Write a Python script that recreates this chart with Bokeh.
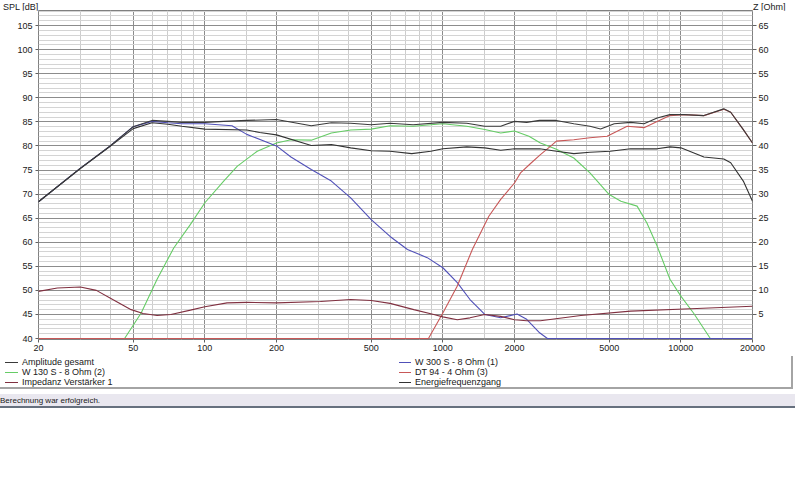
from bokeh.plotting import figure
from bokeh.models import Range1d, LinearAxis, FixedTicker, NumeralTickFormatter, Div
from bokeh.layouts import column
from bokeh.embed import file_html
from bokeh.resources import INLINE

# ---------------- data ----------------
amp_f = [20, 30, 40, 50, 60, 70, 80, 100, 120, 150, 200, 280, 340, 410, 500, 600, 750,
         1000, 1260, 1500, 1750, 2000, 2250, 2550, 3000, 3550, 4150, 4600, 5250, 6150,
         7000, 7950, 9000, 10300, 12500, 15150, 16200, 18300, 20000]
amp_db = [68.4, 75.4, 80.0, 84.0, 85.3, 85.1, 84.9, 84.9, 85.1, 85.3, 85.5, 84.2, 84.8,
          84.7, 84.4, 84.7, 84.4, 84.9, 84.7, 84.1, 84.1, 85.1, 84.9, 85.3, 85.3, 84.6,
          84.1, 83.5, 84.6, 84.9, 84.6, 85.8, 86.5, 86.5, 86.3, 87.7, 87.0, 83.4, 80.6]

en_f = [20, 30, 40, 50, 60, 70, 80, 100, 150, 170, 200, 280, 340, 410, 500, 600, 740,
        890, 1000, 1260, 1500, 1750, 2000, 2250, 2550, 3000, 3550, 4150, 5050, 6150,
        7950, 9000, 10000, 12500, 15150, 16200, 18300, 20000]
en_db = [68.4, 75.3, 79.9, 83.6, 84.8, 84.5, 84.1, 83.5, 83.3, 82.8, 82.3, 80.1, 80.3,
         79.6, 79.0, 78.9, 78.4, 78.9, 79.4, 79.8, 79.6, 79.1, 79.4, 79.4, 79.4, 78.9,
         78.4, 78.7, 78.9, 79.4, 79.4, 79.8, 79.6, 77.7, 77.3, 76.5, 72.7, 68.5]

w300_f = [20, 30, 40, 50, 60, 70, 80, 100, 130, 150, 200, 230, 280, 340, 410, 500, 600,
          710, 860, 1000, 1150, 1300, 1500, 1750, 2050, 2250, 2550, 2750, 20000]
w300_db = [68.4, 75.4, 80.0, 84.0, 85.1, 84.8, 84.6, 84.6, 84.2, 82.4, 80.0, 77.7, 75.1,
           72.7, 69.2, 64.7, 61.2, 58.5, 56.8, 54.7, 51.6, 48.1, 45.0, 44.3, 45.1, 44.0,
           41.2, 40.0, 40.0]

w130_f = [20, 46, 54, 63, 74, 87, 100, 120, 137, 166, 200, 230, 280, 340, 410, 500, 600,
          750, 1000, 1260, 1500, 1750, 2000, 2300, 2570, 3000, 3550, 4150, 5000, 5600,
          6550, 7200, 7950, 9000, 10000, 11300, 13300, 20000]
w130_db = [40, 40, 45.3, 52.3, 58.8, 63.7, 68.2, 72.7, 75.8, 78.9, 80.6, 81.3, 81.2, 82.7,
           83.3, 83.5, 84.2, 84.1, 84.6, 84.1, 83.4, 82.7, 83.1, 82.0, 80.6, 79.3, 77.5,
           74.4, 69.9, 68.5, 67.5, 64.0, 59.2, 52.3, 48.8, 45.3, 40, 40]

dt94_f = [20, 870, 1000, 1150, 1330, 1560, 1750, 2000, 2120, 2330, 2570, 2830, 3000, 3550,
          4150, 4900, 5950, 7000, 7950, 9000, 10300, 12500, 15150, 16200, 18300, 20000]
dt94_db = [40, 40, 45.3, 50.9, 58.5, 65.4, 68.9, 72.3, 74.4, 76.3, 78.2, 79.9, 81.0, 81.3,
           81.7, 82.0, 84.1, 83.8, 85.1, 86.3, 86.5, 86.3, 87.6, 87.0, 83.4, 80.6]

imp_f = [20, 24, 30, 35, 41, 49, 55, 63, 72, 87, 100, 124, 150, 200, 306, 410, 500, 600,
         755, 916, 1000, 1150, 1300, 1500, 1750, 2000, 2250, 2570, 3800, 6150, 11000, 20000]
imp_ohm = [9.8, 10.5, 10.7, 10.0, 8.1, 6.0, 5.2, 4.8, 5.0, 5.9, 6.6, 7.4, 7.5, 7.4, 7.7,
           8.1, 7.9, 7.3, 6.0, 5.0, 4.5, 3.9, 4.3, 5.0, 4.6, 3.9, 3.7, 3.7, 4.8, 5.7, 6.2, 6.7]

x_major = [20, 50, 100, 200, 500, 1000, 2000, 5000, 10000, 20000]
x_minor = [30, 40, 60, 70, 80, 90, 150, 300, 400, 600, 700, 800, 900, 1500, 3000, 4000,
           6000, 7000, 8000, 9000, 15000]
spl_ticks = list(range(40, 110, 5))
spl_minor = list(range(40, 110, 1))
z_ticks = list(range(5, 70, 5))

legend_labels = ["Amplitude gesamt", "W 300 S - 8 Ohm (1)", "W 130 S - 8 Ohm (2)",
                 "DT 94 - 4 Ohm (3)", "Impedanz Verstärker 1", "Energiefrequenzgang"]
legend_colors = ["#3a3a3a", "#5050b8", "#66cc66", "#c85858", "#803040", "#333333"]

FONT = "Liberation Sans"
TXT = "#202020"
W = 795

# frame: from page y 10 (top) to 339 (bottom), 4.815 px per dB
Y0 = 39.8
Y1 = Y0 + 329 / 4.815

# ---------------- header with the two axis titles ----------------
header = Div(
    text=(f'<div style="position:relative;width:{W}px;height:10px;'
          f'font-family:\'{FONT}\';font-size:9px;line-height:10px;color:{TXT};">'
          '<span style="position:absolute;left:3px;top:0px;">SPL [dB]</span>'
          '<span style="position:absolute;left:753px;top:0px;">Z [Ohm]</span></div>'),
    width=W, height=10, margin=0)

# ---------------- main figure ----------------
p = figure(width=W, height=346, x_axis_type="log",
           x_range=Range1d(20, 20000), y_range=Range1d(Y0, Y1),
           output_backend="svg", toolbar_location=None,
           min_border_left=38, min_border_right=W - 752, min_border_top=0,
           min_border_bottom=17)
p.background_fill_color = "white"
p.border_fill_color = "white"
p.outline_line_color = "#808080"

p.extra_y_ranges = {"z": Range1d(Y0 - 40, Y1 - 40)}

# grids
p.xgrid.ticker = FixedTicker(ticks=x_major, minor_ticks=x_minor)
p.xgrid.grid_line_color = "#8c8c8c"
p.xgrid.minor_grid_line_color = "#cdcdcd"
p.ygrid.ticker = FixedTicker(ticks=spl_ticks, minor_ticks=spl_minor)
p.ygrid.grid_line_color = "#8c8c8c"
p.ygrid.minor_grid_line_color = "#d4d4d4"

# axes
p.xaxis.ticker = FixedTicker(ticks=x_major)
p.xaxis.formatter = NumeralTickFormatter(format="0")
p.yaxis.ticker = FixedTicker(ticks=spl_ticks)
zaxis = LinearAxis(y_range_name="z", ticker=FixedTicker(ticks=z_ticks))
p.add_layout(zaxis, "right")
for ax in [p.xaxis[0], p.yaxis[0], zaxis]:
    ax.axis_line_color = None
    ax.major_tick_line_color = "#606060"
    ax.major_tick_in = 0
    ax.minor_tick_line_color = None
    ax.major_label_text_font = FONT
    ax.major_label_text_font_size = "9px"
    ax.major_label_text_color = TXT
p.xaxis.major_tick_out = 3
p.xaxis.major_label_standoff = 2
p.yaxis.major_tick_out = 3
p.yaxis.major_label_standoff = 3
zaxis.major_tick_out = 4
zaxis.major_label_standoff = 2

# curves
p.line(w130_f, w130_db, line_color=legend_colors[2], line_width=1.1)
p.line(w300_f, w300_db, line_color=legend_colors[1], line_width=1.1)
p.line(dt94_f, dt94_db, line_color=legend_colors[3], line_width=1.1)
p.line(imp_f, imp_ohm, y_range_name="z", line_color=legend_colors[4], line_width=1.1)
p.line(en_f, en_db, line_color=legend_colors[5], line_width=1.1)
p.line(amp_f, amp_db, line_color=legend_colors[0], line_width=1.1)

# ---------------- legend (two columns, below the axis) ----------------
col_line_x = [5, 399]
col_text_x = [22, 415]
row_top = [1, 11, 21]
parts = []
for i, (lab, colr) in enumerate(zip(legend_labels, legend_colors)):
    c, r = i % 2, i // 2
    parts.append(f'<span style="position:absolute;left:{col_line_x[c]}px;'
                 f'top:{row_top[r] + 5}px;width:{col_text_x[c] - col_line_x[c] - 4}px;'
                 f'height:0px;border-top:1px solid {colr};"></span>')
    parts.append(f'<span style="position:absolute;left:{col_text_x[c]}px;'
                 f'top:{row_top[r]}px;white-space:nowrap;">{lab}</span>')
legend_div = Div(
    text=(f'<div style="position:relative;width:{W - 2}px;height:33px;'
          'border-bottom:2px solid #a4a4a4;border-right:2px solid #a4a4a4;'
          f'font-family:\'{FONT}\';font-size:9px;line-height:10px;color:{TXT};">'
          + "".join(parts) + '</div>'),
    width=W, height=35, margin=0)

# ---------------- status bar ----------------
status = Div(
    text=(f'<div style="width:{W}px;height:14px;background:#e9e7ef;'
          'border-bottom:2px solid #66707e;'
          f'font-family:\'{FONT}\';font-size:8px;line-height:14px;color:{TXT};'
          'white-space:nowrap;">Berechnung war erfolgreich.</div>'),
    width=W, height=16, margin=0)

layout = column(header, p, legend_div, status, spacing=0)
open("out.html", "w").write(file_html(layout, INLINE))
